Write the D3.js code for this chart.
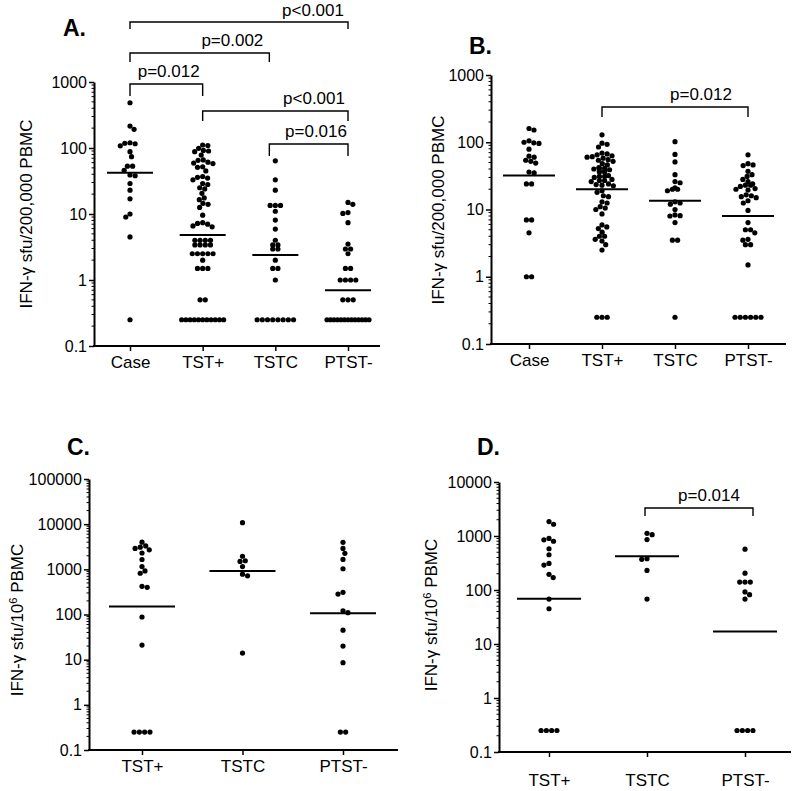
<!DOCTYPE html>
<html><head><meta charset="utf-8">
<script src="https://cdn.jsdelivr.net/npm/d3@7"></script>
<style>
body{margin:0;background:#fff}
svg{display:block}
text{font-family:"Liberation Sans",Arial,Helvetica,sans-serif;fill:#000}
</style>
</head><body>
<svg id="c" width="800" height="791"></svg>
<script>
// ---------------- DATA ----------------
const catsAB = ["Case", "TST+", "TSTC", "PTST-"];
const catsCD = ["TST+", "TSTC", "PTST-"];
const ticksAB = [0.1, 1, 10, 100, 1000];
const tickLabelsAB = ["0.1", "1", "10", "100", "1000"];
const ticksC = [0.1, 1, 10, 100, 1000, 10000, 100000];
const tickLabelsC = ["0.1", "1", "10", "100", "1000", "10000", "100000"];
const ticksD = [0.1, 1, 10, 100, 1000, 10000];
const tickLabelsD = ["0.1", "1", "10", "100", "1000", "10000"];

// Panel A: IFN-γ sfu/200,000 PBMC
const aCase = [485, 215, 192, 120, 118, 116, 108, 88, 74, 53, 53, 46, 39, 38, 29, 23, 17, 10, 9, 4.5, 0.25];
const aTSTpos = [111, 109, 99, 92, 90, 88, 78, 66, 65, 61, 59, 58, 52, 51, 45, 37, 36, 35, 33, 29, 28, 25, 24, 20.6, 17.5, 16.5, 14.5, 14, 12.6, 9.6,
  7.4, 7.2, 7.0, 6.6, 6.4, 4.0, 4.0, 4.0, 4.0, 3.4, 3.4, 3.4, 3.4, 2.5, 2.5, 2.5, 2.5, 2.5, 2.0, 1.5, 1.5, 1.5, 0.5, 0.5,
  0.25, 0.25, 0.25, 0.25, 0.25, 0.25, 0.25, 0.25, 0.25, 0.25, 0.25];
const aTSTC = [64, 33, 23, 13.5, 13.5, 13.5, 11, 8.1, 5.9, 4.0, 3.4, 3.4, 2.95, 2.95, 2.0, 1.5, 1.5, 1.0,
  0.25, 0.25, 0.25, 0.25, 0.25, 0.25, 0.25, 0.25];
const aPTSTneg = [15, 14, 10.5, 10.2, 7.4, 3.5, 2.95, 2.95, 2.5, 1.5, 1.5, 1, 1, 1, 1, 0.5, 0.5, 0.5,
  0.25, 0.25, 0.25, 0.25, 0.25, 0.25, 0.25, 0.25, 0.25, 0.25, 0.25, 0.25, 0.25];
const aMedians = [42, 4.8, 2.4, 0.7];
const aBrackets = [["Case", "PTST-", "p<0.001"], ["Case", "TSTC", "p=0.002"], ["Case", "TST+", "p=0.012"], ["TST+", "PTST-", "p<0.001"], ["TSTC", "PTST-", "p=0.016"]];

// Panel B: IFN-γ sfu/200,000 PBMC
const bCase = [160, 152, 105, 100, 98, 96, 79, 62, 60, 54, 52, 49, 36, 35, 24, 24, 7, 7, 4.5, 1, 1];
const bTSTpos = [129, 97, 93, 85, 69, 67, 65, 63, 61, 60, 58, 55, 54, 52, 48, 46, 42, 41, 41, 40, 39, 37, 37, 36, 36, 32, 31, 31, 30, 28, 27, 27, 26,
  24, 23.5, 23, 22.5, 19, 18, 16, 15.5, 13, 12.5, 11, 10.5, 10, 8.6, 5.9, 5.5, 5.2, 4.6, 4.0, 4.0, 3.6, 3.4, 3.0, 2.5, 0.25, 0.25, 0.25];
const bTSTC = [102, 66, 51, 33, 26, 25, 21, 20, 20, 19, 13, 12.5, 12, 10, 8.3, 8.1, 8.0, 6.4, 3.5, 3.5, 0.25];
const bPTSTneg = [65, 48, 46, 45, 37, 33, 31, 28, 26, 24, 23, 23, 22, 20.5, 20, 19.5, 16.5, 16, 15.5, 15, 13.5, 12.5, 9.7, 6.4, 5.0, 5.0, 4.5,
  3.6, 3.5, 3.0, 3.0, 1.5, 0.25, 0.25, 0.25, 0.25, 0.25, 0.25];
const bMedians = [32, 20, 13.5, 8.0];
const bBrackets = [["TST+", "PTST-", "p=0.012"]];

// Panel C: IFN-γ sfu/10^6 PBMC
const cTSTpos = [4000, 3300, 3100, 2900, 2700, 2300, 1650, 1150, 920, 820, 420, 400, 88, 21, 0.25, 0.25, 0.25, 0.25];
const cTSTC = [10800, 1950, 1550, 1500, 1150, 780, 720, 14];
const cPTSTneg = [3960, 2910, 2260, 1660, 1030, 310, 284, 121, 110, 45, 20, 8.6, 0.25, 0.25];
const cMedians = [150, 920, 106];
const cBrackets = [];

// Panel D: IFN-γ sfu/10^6 PBMC
const dTSTpos = [1850, 1650, 900, 850, 800, 580, 450, 310, 290, 195, 170, 68, 45, 0.25, 0.25, 0.25, 0.25];
const dTSTC = [1120, 1060, 860, 380, 370, 230, 68];
const dPTSTneg = [570, 205, 140, 140, 140, 92, 82, 68, 0.25, 0.25, 0.25, 0.25];
const dMedians = [69, 420, 17];
const dBrackets = [["TSTC", "PTST-", "p=0.014"]];

// ---------------- DRAWING ----------------
const svg = d3.select("#c");

function swarm(values, y, d, maxW) {
  const groups = d3.groups(values, v => v).sort((a, b) => b[0] - a[0]);
  const placed = [];
  let flip = 1;
  for (const [v, arr] of groups) {
    const n = arr.length, py = y(v);
    if (n > 1) {
      let s = d;
      if ((n - 1) * s > maxW) s = maxW / (n - 1);
      for (let i = 0; i < n; i++) placed.push({ v, y: py, dx: (i - (n - 1) / 2) * s });
    } else {
      const near = placed.filter(p => Math.abs(p.y - py) < d);
      const iv = near.map(p => { const h = Math.sqrt(d * d - (p.y - py) ** 2); return [p.dx - h, p.dx + h]; });
      const cands = [0].concat(iv.flat());
      cands.sort((a, b) => (Math.abs(a) - Math.abs(b)) || (flip * (b - a)));
      let best = 0;
      for (const c of cands) {
        if (iv.every(q => c <= q[0] + 1e-6 || c >= q[1] - 1e-6)) { best = c; break; }
      }
      if (best !== 0) flip = -flip;
      placed.push({ v, y: py, dx: best });
    }
  }
  return placed;
}

function drawPanel(p) {
  const g = svg.append("g");
  const y = d3.scaleLog().domain(p.domain).range([p.yBot, p.yTop]);
  const x = d3.scalePoint().domain(p.cats).range(p.catRange);

  // y axis
  const ya = d3.axisLeft(y).tickValues(p.ticks).tickFormat((d, i) => p.tickLabels[i])
    .tickSize(5).tickSizeOuter(0).tickPadding(2);
  const yg = g.append("g").attr("transform", `translate(${p.x0},0)`).call(ya);
  yg.select(".domain").attr("stroke", "#000").attr("stroke-width", 2);
  yg.selectAll(".tick line").attr("stroke", "#000").attr("stroke-width", 1.5);
  yg.selectAll(".tick text").attr("font-size", p.tickFont).attr("fill", "#000")
    .style("font-family", "'Liberation Sans', Arial, sans-serif");

  // minor log ticks
  const minors = [];
  const e0 = Math.round(Math.log10(p.domain[0])), e1 = Math.round(Math.log10(p.domain[1]));
  for (let e = e0; e < e1; e++) for (let k = 2; k < 10; k++) minors.push(k * Math.pow(10, e));
  g.selectAll(null).data(minors).join("line")
    .attr("x1", p.x0 - 2.5).attr("x2", p.x0).attr("y1", d => y(d)).attr("y2", d => y(d))
    .attr("stroke", "#000").attr("stroke-width", 1);

  // x axis
  const xa = d3.axisBottom(x).tickSize(5).tickSizeOuter(0).tickPadding(p.catPad);
  const xg = g.append("g").attr("transform", `translate(0,${p.yBot})`).call(xa);
  xg.select(".domain").remove();
  xg.selectAll(".tick line").attr("stroke", "#000").attr("stroke-width", 1.5);
  xg.selectAll(".tick text").attr("font-size", 17).attr("fill", "#000")
    .style("font-family", "'Liberation Sans', Arial, sans-serif");
  g.append("line").attr("x1", p.x0 - 1).attr("x2", p.x1).attr("y1", p.yBot).attr("y2", p.yBot)
    .attr("stroke", "#000").attr("stroke-width", 2);

  // dots
  p.cats.forEach((c, i) => {
    const pts = swarm(p.values[i], y, p.dotGap, p.rowMax);
    g.append("g").selectAll("circle").data(pts).join("circle")
      .attr("cx", d => x(c) + d.dx).attr("cy", d => d.y).attr("r", 2.6).attr("fill", "#000");
  });

  // median lines
  g.selectAll(null).data(p.medians).join("line")
    .attr("x1", (d, i) => x(p.cats[i]) - p.medW / 2).attr("x2", (d, i) => x(p.cats[i]) + p.medW / 2)
    .attr("y1", d => y(d)).attr("y2", d => y(d)).attr("stroke", "#000").attr("stroke-width", 2);

  // brackets
  p.brackets.forEach((b, i) => {
    const L = p.bracketLayout[i];
    const xa1 = x(b[0]) + (L.dl || 0), xb1 = x(b[1]) + (L.dr || 0);
    g.append("path")
      .attr("d", `M${xa1},${L.y + L.drop}V${L.y}H${xb1}V${L.y + L.drop}`)
      .attr("fill", "none").attr("stroke", "#000").attr("stroke-width", 1.4);
    g.append("text").attr("x", xb1 - L.endOff).attr("y", L.ty).attr("text-anchor", "end")
      .attr("font-size", 17).text(b[2]);
  });

  // y title
  const t = g.append("text").attr("transform", `translate(${p.titleX},${p.titleY}) rotate(-90)`)
    .attr("text-anchor", "middle").attr("font-size", 17);
  t.append("tspan").text(p.titleA);
  if (p.titleSup) {
    t.append("tspan").attr("dy", -6).attr("font-size", 11).text(p.titleSup);
    t.append("tspan").attr("dy", 6).text(p.titleB);
  }

  // panel letter
  g.append("text").attr("x", p.letterX).attr("y", p.letterY).attr("font-size", 23)
    .attr("font-weight", "bold").text(p.letter);
}

drawPanel({
  letter: "A.", letterX: 63, letterY: 36,
  cats: catsAB, values: [aCase, aTSTpos, aTSTC, aPTSTneg], medians: aMedians, brackets: aBrackets,
  domain: [0.1, 1000], ticks: ticksAB, tickLabels: tickLabelsAB, tickFont: 16,
  x0: 94, x1: 380, yTop: 82, yBot: 346, catRange: [130, 348], catPad: 5,
  dotGap: 5.2, rowMax: 42, medW: 46,
  titleA: "IFN-\u03b3 sfu/200,000 PBMC", titleX: 32, titleY: 214,
  bracketLayout: [
    { y: 22, drop: 7, ty: 16, endOff: 4 },
    { y: 53, drop: 9, ty: 46, endOff: 6, dr: -6 },
    { y: 84, drop: 12, ty: 77, endOff: 3 },
    { y: 111, drop: 10, ty: 104, endOff: 3 },
    { y: 144, drop: 12, ty: 137, endOff: 1, dl: -6 }
  ]
});

drawPanel({
  letter: "B.", letterX: 469, letterY: 54,
  cats: catsAB, values: [bCase, bTSTpos, bTSTC, bPTSTneg], medians: bMedians, brackets: bBrackets,
  domain: [0.1, 1000], ticks: ticksAB, tickLabels: tickLabelsAB, tickFont: 16,
  x0: 491, x1: 786, yTop: 75, yBot: 344, catRange: [529, 748], catPad: 5,
  dotGap: 5.2, rowMax: 42, medW: 52,
  titleA: "IFN-\u03b3 sfu/200,000 PBMC", titleX: 444, titleY: 210,
  bracketLayout: [{ y: 107, drop: 10, ty: 100, endOff: 16 }]
});

drawPanel({
  letter: "C.", letterX: 67, letterY: 455,
  cats: catsCD, values: [cTSTpos, cTSTC, cPTSTneg], medians: cMedians, brackets: cBrackets,
  domain: [0.1, 100000], ticks: ticksC, tickLabels: tickLabelsC, tickFont: 16,
  x0: 89, x1: 398, yTop: 479, yBot: 750, catRange: [142, 343], catPad: 5,
  dotGap: 5.3, rowMax: 42, medW: 66,
  titleA: "IFN-\u03b3 sfu/10", titleSup: "6", titleB: " PBMC", titleX: 23, titleY: 620,
  bracketLayout: []
});

drawPanel({
  letter: "D.", letterX: 477, letterY: 455,
  cats: catsCD, values: [dTSTpos, dTSTC, dPTSTneg], medians: dMedians, brackets: dBrackets,
  domain: [0.1, 10000], ticks: ticksD, tickLabels: tickLabelsD, tickFont: 16,
  x0: 499, x1: 791, yTop: 482, yBot: 752, catRange: [549, 745], catPad: 17,
  dotGap: 5.3, rowMax: 42, medW: 64,
  titleA: "IFN-\u03b3 sfu/10", titleSup: "6", titleB: " PBMC", titleX: 437, titleY: 615,
  bracketLayout: [{ y: 508, drop: 8, ty: 501, endOff: 13, dl: -2, dr: 8 }]
});
</script>
</body></html>
